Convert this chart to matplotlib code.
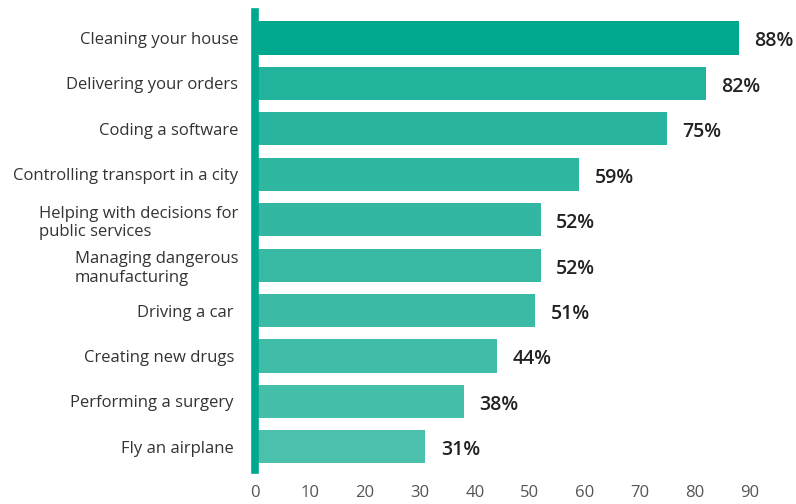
import matplotlib.pyplot as plt

tasks = [
    "Cleaning your house",
    "Delivering your orders",
    "Coding a software",
    "Controlling transport in a city",
    "Helping with decisions for\npublic services",
    "Managing dangerous\nmanufacturing",
    "Driving a car ",
    "Creating new drugs ",
    "Performing a surgery ",
    "Fly an airplane ",
]
shares = [88, 82, 75, 59, 52, 52, 51, 44, 38, 31]
bar_colors = [
    "#00a88e", "#22b39d", "#28b49f", "#2eb6a0", "#33b7a2",
    "#37b9a4", "#3bbba6", "#40bda8", "#45bfaa", "#4bc1ad",
]
ticks = [0, 10, 20, 30, 40, 50, 60, 70, 80, 90]

plt.rcParams["font.family"] = ["Open Sans", "DejaVu Sans"]

fig = plt.figure(figsize=(7.96, 5.04), dpi=100)
ax = fig.add_axes([0.3204, 0.0675, 0.6796, 0.9085])

pos = list(range(len(tasks)))
ax.barh(pos, shares, height=0.73, color=bar_colors)

for y, v in zip(pos, shares):
    ax.annotate(f"{v}%", (v, y), xytext=(11, -2.5), textcoords="offset points",
                ha="left", va="center", fontsize=14, fontweight="semibold", color="#222222")

ax.set_xlim(0, 98.4)
ax.set_ylim(9.51, -0.57)
ax.set_xticks(ticks)
ax.set_yticks(pos)
ax.set_yticklabels(tasks)
for lbl in ax.get_yticklabels():
    lbl.set_multialignment("left")

ax.tick_params(axis="y", length=0, pad=12, labelsize=12, labelcolor="#333333")
ax.tick_params(axis="x", length=0, pad=11, labelsize=12, labelcolor="#555555")

for s in ["top", "right", "bottom"]:
    ax.spines[s].set_visible(False)
ax.spines["left"].set_color("#00a88e")
ax.spines["left"].set_linewidth(5.5)

fig.savefig("out.png", dpi=100)
